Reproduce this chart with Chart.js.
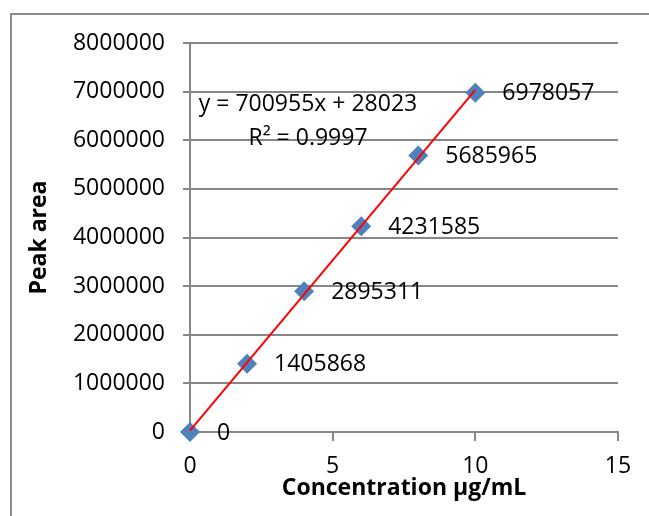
<!DOCTYPE html>
<html>
<head>
<meta charset="utf-8">
<script src="https://cdn.jsdelivr.net/npm/chart.js@4.4.1/dist/chart.umd.min.js"></script>
<style>
  html, body { margin: 0; padding: 0; background: #fff; overflow: hidden; }
  #frame { position: absolute; left: 10px; top: 13px; width: 700px; height: 600px; border: 2px solid #8c8c8c; }
  #calib { position: absolute; left: 0; top: 0; }
</style>
</head>
<body>
<div id="frame"></div>
<canvas id="calib" width="649" height="516"></canvas>
<script>
// calibration points
const concentrations = [0, 2, 4, 6, 8, 10];
const peakAreas = [0, 1405868, 2895311, 4231585, 5685965, 6978057];

// linear fit y = 700955x + 28023, ends at the first and last standard
const trendX = [0, 10];
const trendY = [28023, 7037573];
const equationLines = ['y = 700955x + 28023', 'R\u00B2 = 0.9997'];

const xTicks = [0, 5, 10, 15];
const yTicks = [0, 1000000, 2000000, 3000000, 4000000, 5000000, 6000000, 7000000, 8000000];

const gridGray = '#878787';
const fontFamily = "'Open Sans', sans-serif";

Chart.defaults.font.family = fontFamily;
Chart.defaults.font.size = 23;
Chart.defaults.color = '#000';

// value labels next to each marker, plus the fit equation
const labelsPlugin = {
    id: 'labels',
    afterDatasetsDraw(chart) {
        const ctx = chart.ctx;
        const meta = chart.getDatasetMeta(1);
        ctx.save();
        ctx.font = '23px ' + fontFamily;
        ctx.fillStyle = '#000';
        ctx.textAlign = 'left';
        ctx.textBaseline = 'middle';
        meta.data.forEach((pt, i) => {
            ctx.fillText(String(peakAreas[i]), pt.x + 27, pt.y + 1);
        });
        const area = chart.chartArea;
        ctx.textAlign = 'center';
        ctx.fillText(equationLines[0], area.left + 118, area.top + 61);
        ctx.fillText(equationLines[1], area.left + 118, area.top + 95);
        ctx.restore();
    }
};

new Chart(document.getElementById('calib'), {
    type: 'scatter',
    data: {
        datasets: [
            {
                label: 'Linear fit',
                data: trendX.map((x, i) => ({ x: x, y: trendY[i] })),
                showLine: true,
                borderColor: '#ff0000',
                borderWidth: 2,
                pointRadius: 0,
                clip: false,
                order: 0
            },
            {
                label: 'Peak area',
                data: concentrations.map((x, i) => ({ x: x, y: peakAreas[i] })),
                pointStyle: 'rectRot',
                pointRadius: 10,
                pointBackgroundColor: '#4f81bd',
                pointBorderColor: '#4f81bd',
                pointBorderWidth: 0,
                clip: false,
                order: 1
            }
        ]
    },
    options: {
        responsive: false,
        animation: false,
        layout: { padding: { top: 43, right: 31, bottom: 0, left: 0 } },
        scales: {
            x: {
                type: 'linear',
                min: 0,
                max: 15,
                afterBuildTicks: (scale) => { scale.ticks = xTicks.map(v => ({ value: v })); },
                afterFit: (scale) => { scale.height = 84; },
                ticks: { padding: 12, maxRotation: 0 },
                grid: { drawOnChartArea: false, drawTicks: true, tickLength: 9, color: gridGray, lineWidth: 2 },
                border: { color: gridGray, width: 2 },
                title: {
                    display: true,
                    text: 'Concentration \u00B5g/mL',
                    font: { size: 23, weight: 'bold' },
                    padding: { top: 0, bottom: 14 }
                }
            },
            y: {
                type: 'linear',
                min: 0,
                max: 8000000,
                afterBuildTicks: (scale) => { scale.ticks = yTicks.map(v => ({ value: v })); },
                afterFit: (scale) => { scale.width = 190; },
                ticks: { padding: 18, callback: (v) => String(v) },
                grid: { tickLength: 7, color: gridGray, lineWidth: 2 },
                border: { color: gridGray, width: 2 },
                title: {
                    display: true,
                    text: 'Peak area',
                    font: { size: 23, weight: 'bold' },
                    padding: { top: 26, bottom: 0 }
                }
            }
        },
        plugins: {
            legend: { display: false },
            tooltip: { enabled: false }
        }
    },
    plugins: [labelsPlugin]
});
</script>
</body>
</html>
